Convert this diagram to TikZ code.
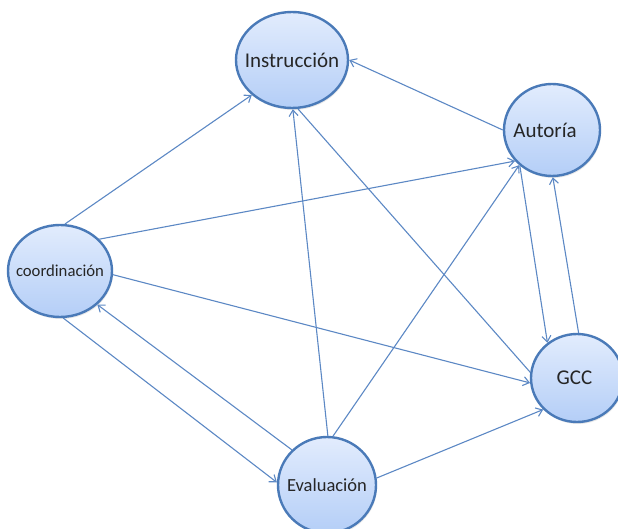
\documentclass[tikz,border=0pt]{standalone}
\usepackage{fontspec}
\setmainfont{Carlito}
\usetikzlibrary{arrows.meta,shapes.geometric,shadows}
\definecolor{linkblue}{RGB}{92,136,196}
\definecolor{rimblue}{RGB}{74,122,184}
\definecolor{fillhi}{RGB}{226,236,253}
\definecolor{filllo}{RGB}{180,206,247}
% zero-width label so the ellipse keeps its set size
\newcommand\nowide[1]{\makebox[0pt]{#1}}
\begin{document}
\begin{tikzpicture}[x=1pt,y=-1pt,
  topic/.style={ellipse, draw=rimblue, line width=2.4pt,
    top color=fillhi, bottom color=filllo, inner sep=0pt, text=black!85,
    drop shadow={shadow xshift=1pt, shadow yshift=-2pt, opacity=0.18}},
  link/.style={draw=linkblue, line width=1.1pt,
    -{Straight Barb[length=6pt,width=9pt]}},
  bare/.style={draw=linkblue, line width=1.1pt}]
\useasboundingbox (0,0) rectangle (618,529);

% topics
\node[topic, minimum width=112pt, minimum height=96pt,
  font=\fontsize{21}{24}\selectfont] (ins) at (292,60) {\nowide{Instrucción}};
\node[topic, minimum width=96pt, minimum height=92pt,
  font=\fontsize{21}{24}\selectfont] (aut) at (552,130) {\nowide{Autoría\hspace*{14pt}}};
\node[topic, minimum width=104pt, minimum height=92pt,
  font=\fontsize{16.7}{19}\selectfont] (coo) at (60,271) {\nowide{coordinación}};
\node[topic, minimum width=92pt, minimum height=88pt,
  font=\fontsize{21}{24}\selectfont] (gcc) at (577,378) {\nowide{GCC\hspace*{5pt}}};
\node[topic, minimum width=98pt, minimum height=96pt,
  font=\fontsize{18.5}{21}\selectfont] (eva) at (327,485) {\nowide{Evaluación}};

% relations
\draw[link] (coo.84)  -- (ins.221);
\draw[link] (aut.180) -- (ins.0);
\draw[link] (coo.39)  -- (aut.220);
\draw[link] (coo.-4)  -- (gcc.186);
\draw[link] (coo.-86) -- (eva.177);
\draw[link] (eva.135) -- (coo.-42);
\draw[link] (eva.89)  -- (ins.-89);
\draw[link] (eva.83)  -- (aut.227);
\draw[link] (eva.8)   -- (gcc.223);
\draw[bare] (gcc.173) -- (ins.-83);
\draw[link] (aut.228) -- (gcc.130);
\draw[link] (gcc.88)  -- (aut.-89);
\end{tikzpicture}
\end{document}
